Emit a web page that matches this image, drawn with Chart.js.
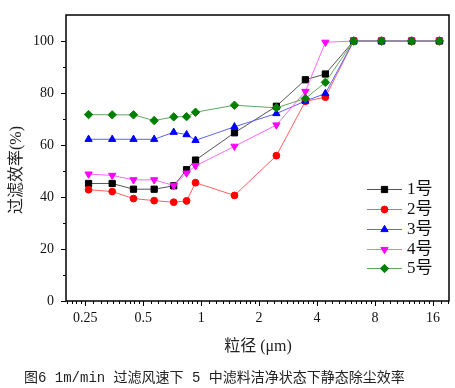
<!DOCTYPE html>
<html>
<head>
<meta charset="utf-8">
<script src="https://cdn.jsdelivr.net/npm/chart.js@4"></script>
<style>
  body { margin: 0; background: #fff; }
</style>
</head>
<body>
<canvas id="chart" width="455" height="388"></canvas>
<script>
// particle size (um) and filtration efficiency (%) for the 5 filter media
const sizes = [0.26, 0.345, 0.445, 0.57, 0.72, 0.84, 0.935, 1.49, 2.46, 3.48, 4.42, 6.2, 8.65, 12.4, 17.3];
const media1 = [45.2, 45.2, 43.0, 43.0, 44.3, 50.5, 54.2, 64.7, 74.9, 85.1, 87.3, 100, 100, 100, 100];
const media2 = [42.8, 42.1, 39.4, 38.6, 38.0, 38.5, 45.5, 40.6, 55.9, 76.8, 78.4, 100, 100, 100, 100];
const media3 = [62.2, 62.2, 62.2, 62.2, 64.9, 64.0, 61.8, 67.0, 72.1, 76.9, 79.8, 100, 100, 100, 100];
const media4 = [48.8, 48.3, 46.6, 46.6, 44.4, 49.2, 52.0, 59.5, 67.7, 80.6, 99.5, 100, 100, 100, 100];
const media5 = [71.7, 71.6, 71.6, 69.4, 70.8, 70.9, 72.6, 75.3, 74.3, 77.9, 84.1, 100, 100, 100, 100];
const names = ['1号', '2号', '3号', '4号', '5号'];
const xTicks = [0.25, 0.5, 1, 2, 4, 8, 16];
const yTicks = [0, 20, 40, 60, 80, 100];

const serif = '"Liberation Serif", "Noto Sans CJK SC", serif';

function makeSet(label, values, color, line, style, radius, rotation, order) {
    return {
        label: label,
        data: values.map((v, i) => ({ x: sizes[i], y: v })),
        borderColor: line,
        borderWidth: 1,
        backgroundColor: color,
        pointBackgroundColor: color,
        pointBorderColor: color,
        pointBorderWidth: 1,
        pointStyle: style,
        pointRadius: radius,
        pointRotation: rotation,
        order: order,
        tension: 0
    };
}

const datasets = [
    makeSet(names[0], media1, '#000000', '#555555', 'rect', 4.4, 0, 4),
    makeSet(names[1], media2, '#ff0000', '#ff6060', 'circle', 3.4, 0, 3),
    makeSet(names[2], media3, '#0000ff', '#6060ff', 'triangle', 4.2, 0, 2),
    makeSet(names[3], media4, '#ff00ff', '#ff66ff', 'triangle', 4.2, 180, 1),
    makeSet(names[4], media5, '#008000', '#60a860', 'rectRot', 4.2, 0, 0)
];

const framePlugin = {
    id: 'frame',
    afterDraw(chart) {
        const { ctx, chartArea: a, scales: { x, y } } = chart;
        ctx.save();
        ctx.strokeStyle = '#000';
        ctx.lineWidth = 1.5;
        ctx.strokeRect(a.left, a.top, a.right - a.left, a.bottom - a.top);

        // ticks, major and minor
        ctx.lineWidth = 1;
        ctx.beginPath();
        for (let v = 0; v <= 100; v += 10) {
            const py = Math.round(y.getPixelForValue(v)) + 0.5;
            const len = v % 20 === 0 ? 5 : 3;
            ctx.moveTo(a.left, py);
            ctx.lineTo(a.left - len, py);
        }
        for (let k = -2; k <= 6; k++) {
            const base = 0.25 * Math.pow(2, k);
            for (let m = 0; m < 10; m++) {
                const v = base * (1 + m / 10);
                if (v < x.min || v > x.max) continue;
                const px = Math.round(x.getPixelForValue(v)) + 0.5;
                const len = m === 0 ? 5 : 3;
                ctx.moveTo(px, a.bottom);
                ctx.lineTo(px, a.bottom + len);
            }
        }
        ctx.stroke();

        // axis titles
        ctx.fillStyle = '#222';
        ctx.textAlign = 'center';
        ctx.textBaseline = 'middle';
        ctx.font = '16px ' + serif;
        ctx.fillText('粒径 (μm)', 258, 347);
        ctx.save();
        ctx.translate(17, 170);
        ctx.rotate(-Math.PI / 2);
        ctx.fillText('过滤效率(%)', 0, 0);
        ctx.restore();

        // legend
        const rows = [189, 209, 229, 249, 268];
        chart.data.datasets.forEach((ds, i) => {
            const ly = rows[i];
            ctx.strokeStyle = ds.borderColor;
            ctx.lineWidth = 1;
            ctx.beginPath();
            ctx.moveTo(367, ly + 0.5);
            ctx.lineTo(402, ly + 0.5);
            ctx.stroke();
            ctx.fillStyle = ds.pointBackgroundColor;
            ctx.strokeStyle = ds.pointBorderColor;
            Chart.helpers.drawPoint(ctx, {
                pointStyle: ds.pointStyle,
                rotation: ds.pointRotation,
                radius: ds.pointRadius,
                borderWidth: 1
            }, 384.5, ly + 0.5);
            ctx.fillStyle = '#111';
            ctx.textAlign = 'left';
            ctx.font = '17px ' + serif;
            ctx.fillText(ds.label, 407, ly + 1);
        });

        // figure caption
        ctx.fillStyle = '#222';
        ctx.textAlign = 'left';
        ctx.font = '14px "Liberation Mono", "Noto Sans CJK SC", monospace';
        ctx.fillText('图6 1m/min 过滤风速下 5 中滤料洁净状态下静态除尘效率', 24, 378);
        ctx.restore();
    }
};

new Chart(document.getElementById('chart'), {
    type: 'line',
    data: { datasets: datasets },
    options: {
        responsive: false,
        animation: false,
        layout: { padding: { top: 15, right: 6, left: 0, bottom: 0 } },
        plugins: {
            legend: { display: false },
            tooltip: { enabled: false }
        },
        scales: {
            x: {
                type: 'logarithmic',
                min: 0.1985,
                max: 19.4,
                grid: { display: false, drawTicks: false },
                border: { display: false },
                afterBuildTicks: scale => { scale.ticks = xTicks.map(v => ({ value: v })); },
                afterFit: scale => {
                    scale.height = 87;
                    scale.paddingLeft = 0;
                    scale.paddingRight = 0;
                },
                ticks: {
                    autoSkip: false,
                    maxRotation: 0,
                    padding: 9,
                    color: '#111',
                    font: { family: serif, size: 14 },
                    callback: v => String(v)
                }
            },
            y: {
                type: 'linear',
                min: 0,
                max: 110,
                grid: { display: false, drawTicks: false },
                border: { display: false },
                afterBuildTicks: scale => { scale.ticks = yTicks.map(v => ({ value: v })); },
                afterFit: scale => {
                    scale.width = 66;
                    scale.paddingTop = 0;
                    scale.paddingBottom = 0;
                },
                ticks: {
                    padding: 12,
                    color: '#111',
                    font: { family: serif, size: 14 },
                    callback: v => String(v)
                }
            }
        }
    },
    plugins: [framePlugin]
});
</script>
</body>
</html>
